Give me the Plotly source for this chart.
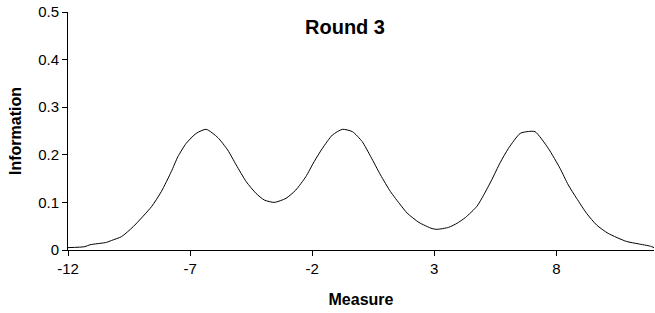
import plotly.graph_objects as go

measure = [-12.0, -11.31, -11.1, -10.42, -10.22, -9.81, -9.33, -8.58, -8.18, -7.77,
           -7.5, -7.16, -6.75, -6.34, -5.86, -5.46, -5.11, -4.7, -4.3, -3.96,
           -3.55, -3.07, -2.67, -2.26, -1.92, -1.58, -1.17, -0.76, -0.35, 0.05,
           0.40, 0.80, 1.21, 1.62, 1.89, 2.37, 2.91, 3.11, 3.59, 3.93,
           4.27, 4.75, 5.02, 5.36, 5.70, 6.04, 6.52, 6.86, 7.13, 7.67,
           8.15, 8.49, 8.83, 9.24, 9.65, 10.12, 10.87, 11.35, 11.85, 12.0]
information = [0.005, 0.007, 0.011, 0.016, 0.02, 0.028, 0.049, 0.091, 0.1225, 0.1645,
               0.196, 0.224, 0.245, 0.2535, 0.236, 0.21, 0.1786, 0.1435, 0.119, 0.105,
               0.100, 0.1086, 0.126, 0.154, 0.1855, 0.2136, 0.2416, 0.2535, 0.2486, 0.2276,
               0.196, 0.1576, 0.1225, 0.0945, 0.0775, 0.058, 0.045, 0.0434, 0.0476, 0.056,
               0.068, 0.092, 0.115, 0.148, 0.1835, 0.2136, 0.245, 0.249, 0.2486, 0.2136,
               0.1716, 0.1366, 0.1086, 0.077, 0.0525, 0.035, 0.018, 0.013, 0.008, 0.005]

x_ticks = [-12, -7, -2, 3, 8]
y_ticks = [0, 0.1, 0.2, 0.3, 0.4, 0.5]
y_tick_text = ["0", "0.1", "0.2", "0.3", "0.4", "0.5"]

FONT = "Arial, Liberation Sans, sans-serif"

fig = go.Figure(go.Scatter(x=measure, y=information, mode="lines",
                           line=dict(color="black", width=1, shape="spline", smoothing=0.6),
                           showlegend=False, hoverinfo="skip"))

fig.update_layout(
    width=655, height=313,
    margin=dict(l=68, r=1, t=12, b=63),
    paper_bgcolor="white", plot_bgcolor="white",
    font=dict(family=FONT, color="black", size=15),
    title=dict(text="<b>Round 3</b>", x=345/655, xanchor="center", xref="container",
               y=1-27/313, yanchor="middle", yref="container",
               font=dict(family=FONT, size=20, color="black")),
    xaxis=dict(range=[-12, 12], tickvals=x_ticks, ticktext=[str(v) for v in x_ticks],
               showgrid=False, zeroline=False, showline=True, linecolor="black", linewidth=1,
               ticks="outside", ticklen=5, tickcolor="black", tickwidth=1,
               tickfont=dict(family=FONT, size=15, color="black"),
               title=dict(text="<b>Measure</b>", standoff=17,
                          font=dict(family=FONT, size=16, color="black"))),
    yaxis=dict(range=[0, 0.5], tickvals=y_ticks, ticktext=y_tick_text,
               showgrid=False, zeroline=False, showline=True, linecolor="black", linewidth=1,
               ticks="outside", ticklen=5, tickcolor="black", tickwidth=1,
               tickfont=dict(family=FONT, size=15, color="black"),
               title=dict(text="<b>Information</b>", standoff=12,
                          font=dict(family=FONT, size=16, color="black"))),
)

fig.write_html("out.html")
